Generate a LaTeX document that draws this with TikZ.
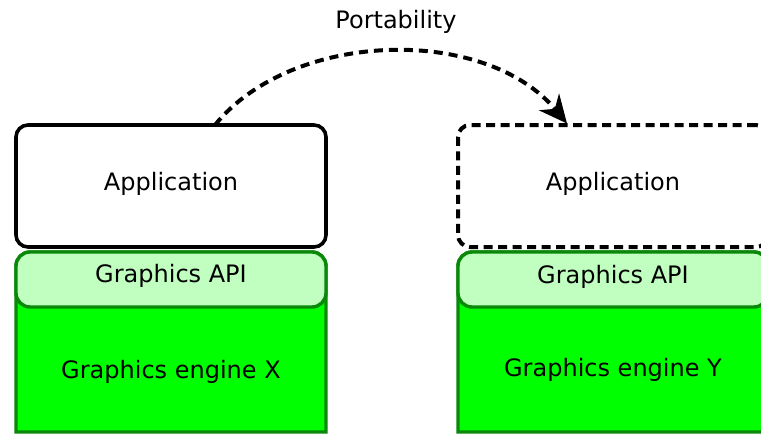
\documentclass[tikz,border=0pt]{standalone}
\usepackage{fontspec}
\setmainfont{DejaVu Sans}
\usetikzlibrary{arrows.meta}
\definecolor{layerline}{RGB}{10,136,10}
\definecolor{apifill}{RGB}{192,255,192}
\definecolor{enginefill}{RGB}{0,255,0}
\begin{document}
\begin{tikzpicture}[x=1pt,y=-1pt,
  font=\fontsize{24}{28}\selectfont,
  layer/.style={minimum width=310pt, inner sep=0pt, outer sep=0pt, anchor=north west},
  appbox/.style={layer, draw=black, line width=3.6pt, rounded corners=12pt, fill=white, minimum height=122pt},
  portbox/.style={layer, draw=black, line width=4pt, rounded corners=12pt, dash pattern=on 9pt off 5.5pt, minimum height=122pt},
  enginebox/.style={layer, minimum height=180pt},
  engineshape/.style={draw=layerline, line width=3.4pt, fill=enginefill},
  apibox/.style={layer, draw=layerline, line width=3.4pt, rounded corners=14pt, fill=apifill, minimum height=55pt},
  caption/.style={inner sep=0pt, text=black},
  porting/.style={line width=4pt, dash pattern=on 9pt off 6pt,
    -{Stealth[length=28pt, width=26pt, inset=9pt]}}
]
\useasboundingbox (0,0) rectangle (761,434);
\fill[white] (0,0) rectangle (761,434);

% engine layer: rounded top, square bottom
\newcommand{\engineoutline}[1]{%
  \draw[engineshape] (#1.south west) -- ([yshift=-14pt]#1.north west)
    arc[start angle=180, end angle=90, radius=14pt]
    -- ([xshift=-14pt]#1.north east)
    arc[start angle=90, end angle=0, radius=14pt]
    -- (#1.south east) -- cycle;}

% left stack
\node[appbox] (appL) at (16,125) {};
\node[enginebox] (engL) at (16,252) {};
\engineoutline{engL}
\node[apibox] (apiL) at (16,252) {};
\node[caption] (appLtxt) at (171,183.4) {Application};
\node[caption] (apiLtxt) at (171,276) {Graphics API};
\node[caption] (engLtxt) at (171,371.7) {Graphics engine X};

% right stack
\node[enginebox] (engR) at (458,252) {};
\engineoutline{engR}
\node[apibox] (apiR) at (458,252) {};
\node[portbox] (appR) at (458,125) {};
\node[caption] (appRtxt) at (613,183.4) {Application};
\node[caption] (apiRtxt) at (613,276.7) {Graphics API};
\node[caption] (engRtxt) at (613,369.4) {Graphics engine Y};

% porting arrow
\coordinate (portS) at ([xshift=44pt]appL.north);
\coordinate (portE) at ([xshift=-46pt,yshift=1.5pt]appR.north);
\draw[porting] (portS) .. controls (292,30) and (485,25) .. (portE);
\node[caption] (portTxt) at (396,21.4) {Portability};
\end{tikzpicture}
\end{document}
